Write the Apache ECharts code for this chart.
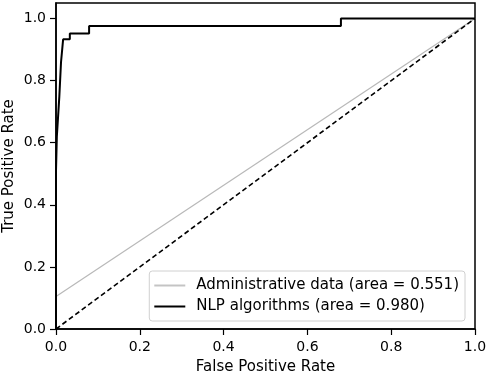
<!DOCTYPE html>
<html><head><meta charset="utf-8">
<script src="https://cdn.jsdelivr.net/npm/echarts@6/dist/echarts.min.js"></script>
<style>html,body{margin:0;padding:0;background:#fff}#c{width:489px;height:373px}</style>
</head><body><div id="c"></div>
<script>
const tickValues = [0, 0.2, 0.4, 0.6, 0.8, 1.0];
const adminName = 'Administrative data (area = 0.551)';
const nlpName = 'NLP algorithms (area = 0.980)';
const adminFpr = [0, 1];
const adminTpr = [0.105, 1];
const nlpFpr = [0, 0, 0.002, 0.002, 0.005, 0.008, 0.012, 0.017, 0.033, 0.033, 0.079, 0.079, 0.68, 0.68, 1];
const nlpTpr = [0, 0.51, 0.51, 0.62, 0.62, 0.75, 0.86, 0.933, 0.933, 0.952, 0.952, 0.976, 0.976, 1.0, 1.0];
const chanceFpr = [0, 1];
const chanceTpr = [0, 1];

const zip = (a, b) => a.map((v, i) => [v, b[i]]);
const font = 'DejaVu Sans';
const chart = echarts.init(document.getElementById('c'), null, {renderer: 'canvas'});
const axisCommon = {
  type: 'value', min: 0, splitLine: {show: false},
  axisLine: {show: true, onZero: false, lineStyle: {color: '#000', width: 1.5}},
  axisTick: {show: true, length: 6, inside: false, customValues: tickValues, lineStyle: {color: '#000', width: 1.2}},
  axisLabel: {customValues: tickValues, color: '#000', fontFamily: font, fontSize: 14, margin: 10,
    formatter: v => v.toFixed(1)},
  nameLocation: 'middle', nameMoveOverlap: false,
  nameTextStyle: {color: '#000', fontFamily: font, fontSize: 15}
};
chart.setOption({
  animation: false,
  grid: {left: 56, right: 14, top: 3, bottom: 44, containLabel: false, outerBoundsMode: 'none',
    show: true, borderColor: '#000', borderWidth: 1.5, backgroundColor: 'transparent'},
  xAxis: Object.assign({}, axisCommon, {max: 1, name: 'False Positive Rate', nameGap: 31,
    axisLabel: Object.assign({}, axisCommon.axisLabel, {margin: 11})}),
  yAxis: Object.assign({}, axisCommon, {max: 1.05, name: 'True Positive Rate', nameGap: 39}),
  legend: {
    data: [
      {name: adminName, icon: 'rect', itemStyle: {color: '#c4c4c4'}},
      {name: nlpName, icon: 'rect', itemStyle: {color: '#000'}}
    ],
    orient: 'vertical', right: 24, bottom: 52,
    backgroundColor: '#fff', borderColor: '#d0d0d0', borderWidth: 1, borderRadius: 3,
    padding: [6, 6, 6, 5], itemGap: 4, itemWidth: 31, itemHeight: 2,
    textStyle: {color: '#000', fontFamily: font, fontSize: 15, padding: [0, 0, 0, 6], lineHeight: 17}
  },
  series: [
    {name: adminName, type: 'line', data: zip(adminFpr, adminTpr), symbol: 'none',
      lineStyle: {color: '#b8b8b8', width: 1.2}, itemStyle: {color: '#b8b8b8'}, z: 2},
    {name: 'chance', type: 'line', data: zip(chanceFpr, chanceTpr), symbol: 'none',
      lineStyle: {color: '#000', width: 1.6, type: [5, 3]}, z: 3},
    {name: nlpName, type: 'line', data: zip(nlpFpr, nlpTpr), symbol: 'none',
      lineStyle: {color: '#000', width: 2}, itemStyle: {color: '#000'}, z: 4}
  ]
});
</script></body></html>
